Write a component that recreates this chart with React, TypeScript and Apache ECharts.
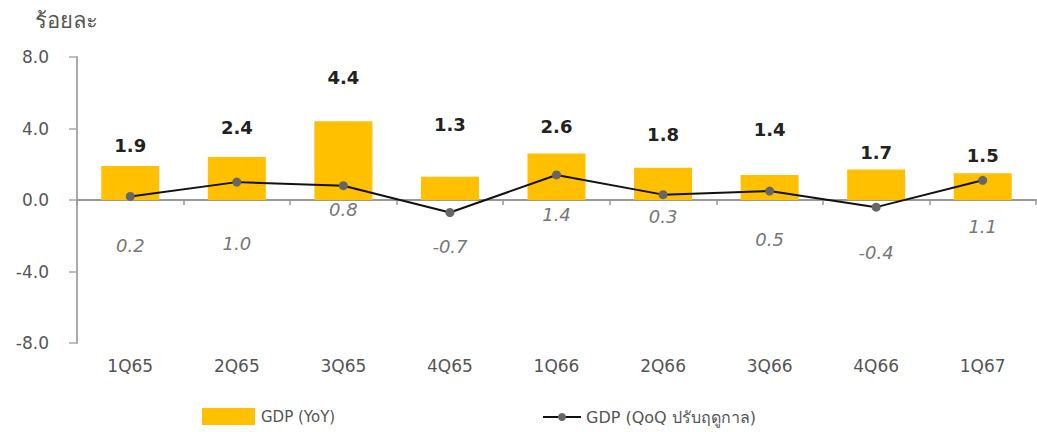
import React, { useEffect, useRef } from "react";
import * as echarts from "echarts";

const categories = ["1Q65", "2Q65", "3Q65", "4Q65", "1Q66", "2Q66", "3Q66", "4Q66", "1Q67"];
const yoyValues = [1.9, 2.4, 4.4, 1.3, 2.6, 1.8, 1.4, 1.7, 1.5];
const qoqValues = [0.2, 1.0, 0.8, -0.7, 1.4, 0.3, 0.5, -0.4, 1.1];
const yoyLabelGap = [12, 21, 35, 43, 18, 24, 36, 8, 9];
const qoqLabelGap = [36, 48, 10, 20, 26, 8, 35, 32, 33];
const yTicks = [-8, -4, 0, 4, 8];

const FONT = "DejaVu Sans";

export default function App() {
  const ref = useRef<HTMLDivElement>(null);
  useEffect(() => {
    const chart = echarts.init(ref.current!, null, { renderer: "svg" });
    chart.setOption({
      animation: false,
      backgroundColor: "#ffffff",
      textStyle: { fontFamily: FONT },
      grid: { left: 77, right: 1, top: 57, bottom: 89 },
      title: {
        text: "ร้อยละ",
        left: 30,
        top: 4,
        textStyle: { fontFamily: FONT, fontSize: 22, fontWeight: "normal", color: "#555" },
      },
      legend: [
        {
          left: 197,
          top: 403,
          itemWidth: 53,
          itemHeight: 17,
          itemGap: 5,
          data: [{ name: "GDP (YoY)", icon: "rect" }],
          textStyle: { fontFamily: FONT, fontSize: 15, color: "#555", padding: [0, 0, 0, 1] },
        },
        {
          left: 537,
          top: 404,
          itemWidth: 38,
          itemHeight: 10,
          data: ["GDP (QoQ ปรับฤดูกาล)"],
          textStyle: { fontFamily: FONT, fontSize: 16, color: "#555" },
        },
      ],
      xAxis: [
        {
          type: "category",
          data: categories,
          axisLine: { show: false, onZero: false },
          axisTick: { show: false },
          axisLabel: { fontFamily: FONT, fontSize: 17, color: "#555", margin: 14 },
        },
        {
          type: "category",
          data: categories,
          position: "bottom",
          axisLine: { show: true, onZero: true, lineStyle: { color: "#999", width: 2 } },
          axisTick: { show: true, length: 5, inside: false, lineStyle: { color: "#999", width: 1.5 } },
          axisLabel: { show: false },
        },
      ],
      yAxis: {
        type: "value",
        min: -8,
        max: 8,
        interval: 4,
        axisLine: { show: true, lineStyle: { color: "#aaa", width: 2 } },
        axisTick: { show: true, length: 8, lineStyle: { color: "#aaa", width: 1.5 } },
        splitLine: { show: false },
        axisLabel: {
          fontFamily: FONT,
          fontSize: 17,
          color: "#555",
          margin: 28,
          formatter: (v: number) => (yTicks.includes(v) ? v.toFixed(1) : ""),
        },
      },
      series: [
        {
          name: "GDP (YoY)",
          type: "bar",
          xAxisIndex: 0,
          barWidth: 58,
          itemStyle: { color: "#FFC000" },
          data: yoyValues.map((v, i) => ({
            value: v,
            label: {
              show: true,
              position: "top",
              distance: yoyLabelGap[i],
              formatter: v.toFixed(1),
              fontFamily: FONT,
              fontSize: 18,
              fontWeight: "bold",
              color: "#222",
            },
          })),
          z: 1,
        },
        {
          name: "GDP (QoQ ปรับฤดูกาล)",
          type: "line",
          xAxisIndex: 0,
          symbol: "circle",
          symbolSize: 9,
          lineStyle: { color: "#111", width: 2 },
          itemStyle: { color: "#666" },
          data: qoqValues.map((v, i) => ({
            value: v,
            label: {
              show: true,
              position: "bottom",
              distance: qoqLabelGap[i],
              formatter: v.toFixed(1),
              fontFamily: FONT,
              fontSize: 18,
              fontStyle: "italic",
              color: "#777",
            },
          })),
          z: 3,
        },
      ],
    });
    return () => chart.dispose();
  }, []);
  return <div ref={ref} style={{ width: 1037, height: 432, position: "absolute", left: 0, top: 0 }} />;
}
